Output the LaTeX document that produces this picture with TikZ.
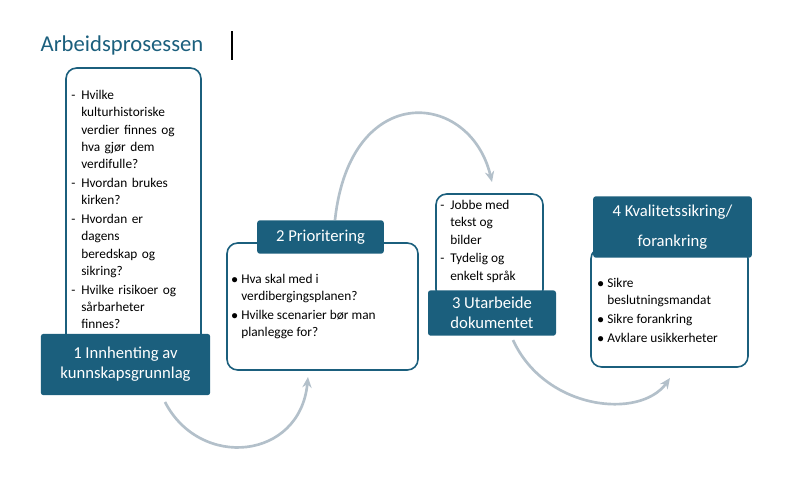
\documentclass[tikz,border=0pt]{standalone}
\usepackage{fontspec}
\setmainfont{Carlito}
\usetikzlibrary{arrows.meta}
\definecolor{teal1}{HTML}{1B5F7D}
\definecolor{arcgray}{HTML}{B3C0CA}
\newcommand{\hp}[2]{{\hangindent=0.75em\hangafter=1\noindent\makebox[0.75em][l]{#1}#2\par}}
\tikzset{
  frame/.style={draw=teal1, line width=1.2pt, rounded corners=8pt, fill=white},
  label/.style={fill=teal1, rounded corners=2pt, text=white, font=\fontsize{12.5}{15}\selectfont, align=center, inner sep=0pt},
  txt/.style={font=\fontsize{10}{13}\selectfont, align=left, anchor=north west, inner sep=0pt},
  arc/.style={draw=arcgray, line width=2pt, -{Stealth[length=8pt,width=7pt]}}
}
\begin{document}
\begin{tikzpicture}[x=0.75pt,y=-0.75pt]
\useasboundingbox (0,0) rectangle (810,494);
\node[anchor=west, text=teal1, font=\fontsize{17}{20}\selectfont] (title) at (36,45) {Arbeidsprosessen};
\draw[black, line width=0.8pt] (232,31) -- (232,60);
% arcs
\coordinate (a1s) at (165,402);
\coordinate (a1e) at (308,377);
\coordinate (a2s) at (335,220);
\coordinate (a2e) at (492,182);
\coordinate (a3s) at (513,340);
\coordinate (a3e) at (670,378);
\draw[arc] (a1s) .. controls (200,470) and (300,460) .. (a1e);
\draw[arc] (a2s) .. controls (350,80) and (470,90) .. (a2e);
\draw[arc] (a3s) .. controls (545,410) and (640,420) .. (a3e);
% frames
\draw[frame] (66,68) rectangle (201,355);
\draw[frame] (227,243) rectangle (418,370);
\draw[frame] (436,194) rectangle (543,300);
\draw[frame] (591,248) rectangle (748,367);
% texts
\node[txt, text width=128\pgflinewidth] (t1) at (71,90) {\parbox[t]{96pt}{%
\hp{-}{Hvilke\\kulturhistoriske\\verdier finnes og\\hva gjør dem\\verdifulle?}%
\vspace{1pt}\hp{-}{Hvordan brukes\\kirken?}%
\vspace{1pt}\hp{-}{Hvordan er\\dagens\\beredskap og\\sikring?}%
\vspace{1pt}\hp{-}{Hvilke risikoer og\\sårbarheter\\finnes?}}};
\node[txt] (t2) at (231,274) {\parbox[t]{140pt}{%
\hp{$\bullet$}{Hva skal med i\\verdibergingsplanen?}%
\vspace{1pt}\hp{$\bullet$}{Hvilke scenarier bør man\\planlegge for?}}};
\node[txt] (t3) at (440,200) {\parbox[t]{78pt}{%
\hp{-}{Jobbe med\\tekst og\\bilder}%
\vspace{1pt}\hp{-}{Tydelig og\\enkelt språk}}};
\node[txt] (t4) at (597,278) {\parbox[t]{110pt}{%
\hp{$\bullet$}{Sikre\\beslutningsmandat}%
\vspace{1pt}\hp{$\bullet$}{Sikre forankring}%
\vspace{1pt}\hp{$\bullet$}{Avklare usikkerheter}}};
% labels
\node[label, minimum width=127pt, minimum height=46pt] (l1) at (125.5,364.5) {1 Innhenting av\\kunnskapsgrunnlag};
\node[label, minimum width=95pt, minimum height=25pt] (l2) at (320.5,237) {2 Prioritering};
\node[label, minimum width=96pt, minimum height=34pt] (l3) at (492,313) {3 Utarbeide\\dokumentet};
\node[label, minimum width=119pt, minimum height=46pt, font=\fontsize{12.5}{22}\selectfont] (l4) at (672.5,227) {4 Kvalitetssikring/\\forankring};
\end{tikzpicture}
\end{document}
